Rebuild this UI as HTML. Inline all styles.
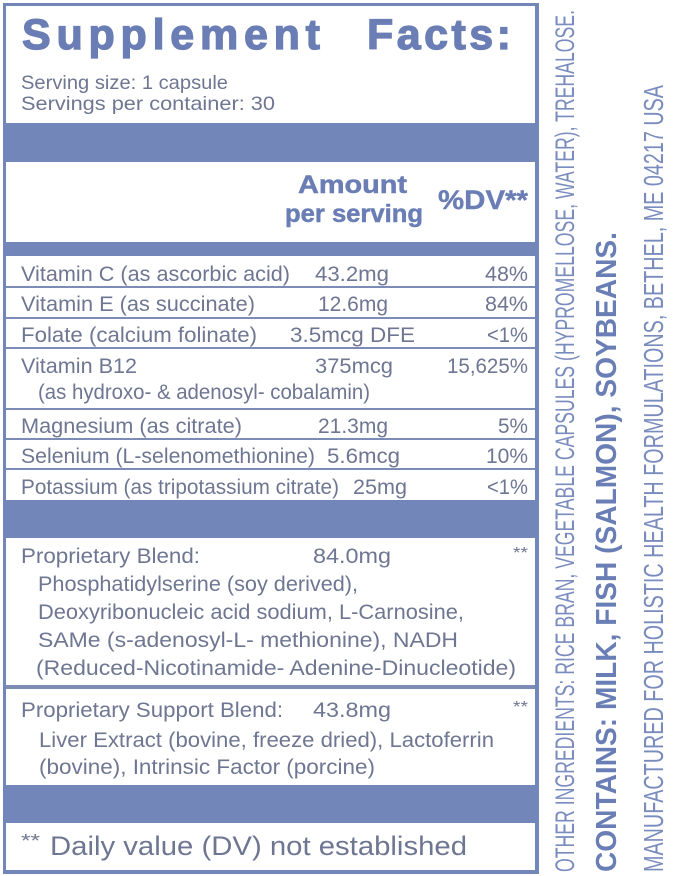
<!DOCTYPE html>
<html><head><meta charset="utf-8"><style>
html,body{margin:0;padding:0;background:#fff;}
svg{display:block}
text{font-family:"Liberation Sans",sans-serif;}
.t{fill:#6e7692;font-size:21px}
.h{fill:#6a7eb5;font-weight:bold}
.v{fill:#7a8bbe}
</style></head><body>
<svg width="676" height="876" viewBox="0 0 676 876" xmlns="http://www.w3.org/2000/svg">
<rect x="0" y="0" width="676" height="876" fill="#fff"/>
<!-- outer box -->
<rect x="3" y="3" width="536" height="871" fill="#7286ba"/>
<rect x="6" y="6" width="529" height="864" fill="#fff"/>
<!-- bars -->
<rect x="3" y="123" width="536" height="39" fill="#7286ba"/>
<rect x="3" y="242" width="536" height="14" fill="#7286ba"/>
<rect x="3" y="500" width="536" height="38" fill="#7286ba"/>
<rect x="3" y="785" width="536" height="38" fill="#7286ba"/>
<!-- row separators -->
<rect x="6" y="286" width="529" height="2" fill="#7d8bb7"/>
<rect x="6" y="317" width="529" height="2" fill="#7d8bb7"/>
<rect x="6" y="347" width="529" height="2" fill="#7d8bb7"/>
<rect x="6" y="408" width="529" height="2" fill="#7d8bb7"/>
<rect x="6" y="438" width="529" height="2" fill="#7d8bb7"/>
<rect x="6" y="468" width="529" height="2" fill="#7d8bb7"/>
<rect x="6" y="685" width="529" height="4" fill="#7d8bb7"/>

<!-- title -->
<text class="h" x="22" y="49" font-size="43" stroke="#6a7eb5" stroke-width="1.3" textLength="298" lengthAdjust="spacing">Supplement</text>
<text class="h" x="367" y="49" font-size="43" stroke="#6a7eb5" stroke-width="1.3" textLength="144" lengthAdjust="spacing">Facts:</text>
<text class="t" x="21" y="89" style="font-size:19.5px" textLength="207" lengthAdjust="spacingAndGlyphs">Serving size: 1 capsule</text>
<text class="t" x="21" y="110" style="font-size:19.5px" textLength="254" lengthAdjust="spacingAndGlyphs">Servings per container: 30</text>

<!-- header -->
<text class="h" x="298" y="193" font-size="25" stroke="#6a7eb5" stroke-width="0.5" textLength="109" lengthAdjust="spacingAndGlyphs">Amount</text>
<text class="h" x="285" y="222" font-size="25" stroke="#6a7eb5" stroke-width="0.5" textLength="138" lengthAdjust="spacingAndGlyphs">per serving</text>
<text class="h" x="438" y="209" font-size="27" stroke="#6a7eb5" stroke-width="0.4" textLength="90" lengthAdjust="spacingAndGlyphs">%DV**</text>

<!-- rows -->
<text class="t" x="21" y="281" textLength="269" lengthAdjust="spacingAndGlyphs">Vitamin C (as ascorbic acid)</text>
<text class="t" x="315" y="281" textLength="74" lengthAdjust="spacingAndGlyphs">43.2mg</text>
<text class="t" x="485" y="281" textLength="43" lengthAdjust="spacingAndGlyphs">48%</text>

<text class="t" x="21" y="311" textLength="234" lengthAdjust="spacingAndGlyphs">Vitamin E (as succinate)</text>
<text class="t" x="318" y="311" textLength="70" lengthAdjust="spacingAndGlyphs">12.6mg</text>
<text class="t" x="485" y="311" textLength="43" lengthAdjust="spacingAndGlyphs">84%</text>

<text class="t" x="21" y="342" textLength="236" lengthAdjust="spacingAndGlyphs">Folate (calcium folinate)</text>
<text class="t" x="290" y="342" textLength="125" lengthAdjust="spacingAndGlyphs">3.5mcg DFE</text>
<text class="t" x="487" y="342" textLength="41" lengthAdjust="spacingAndGlyphs">&lt;1%</text>

<text class="t" x="21" y="373" textLength="116" lengthAdjust="spacingAndGlyphs">Vitamin B12</text>
<text class="t" x="315" y="373" textLength="78" lengthAdjust="spacingAndGlyphs">375mcg</text>
<text class="t" x="447" y="373" textLength="81" lengthAdjust="spacingAndGlyphs">15,625%</text>
<text class="t" x="38" y="399" textLength="332" lengthAdjust="spacingAndGlyphs">(as hydroxo- &amp; adenosyl- cobalamin)</text>

<text class="t" x="21" y="433" textLength="221" lengthAdjust="spacingAndGlyphs">Magnesium (as citrate)</text>
<text class="t" x="318" y="433" textLength="70" lengthAdjust="spacingAndGlyphs">21.3mg</text>
<text class="t" x="498" y="433" textLength="30" lengthAdjust="spacingAndGlyphs">5%</text>

<text class="t" x="21" y="463" textLength="294" lengthAdjust="spacingAndGlyphs">Selenium (L-selenomethionine)</text>
<text class="t" x="327" y="463" textLength="73" lengthAdjust="spacingAndGlyphs">5.6mcg</text>
<text class="t" x="486" y="463" textLength="42" lengthAdjust="spacingAndGlyphs">10%</text>

<text class="t" x="21" y="494" textLength="318" lengthAdjust="spacingAndGlyphs">Potassium (as tripotassium citrate)</text>
<text class="t" x="353" y="494" textLength="54" lengthAdjust="spacingAndGlyphs">25mg</text>
<text class="t" x="487" y="494" textLength="41" lengthAdjust="spacingAndGlyphs">&lt;1%</text>

<!-- blend 1 -->
<text class="t" x="21" y="563" textLength="179" lengthAdjust="spacingAndGlyphs">Proprietary Blend:</text>
<text class="t" x="313" y="563" textLength="78" lengthAdjust="spacingAndGlyphs">84.0mg</text>
<text class="t" x="513" y="558" style="font-size:16px" textLength="15" lengthAdjust="spacingAndGlyphs">**</text>
<text class="t" x="38" y="591" textLength="320" lengthAdjust="spacingAndGlyphs">Phosphatidylserine (soy derived),</text>
<text class="t" x="38" y="619" textLength="426" lengthAdjust="spacingAndGlyphs">Deoxyribonucleic acid sodium, L-Carnosine,</text>
<text class="t" x="38" y="647" textLength="420" lengthAdjust="spacingAndGlyphs">SAMe (s-adenosyl-L- methionine), NADH</text>
<text class="t" x="36" y="675" textLength="480" lengthAdjust="spacingAndGlyphs">(Reduced-Nicotinamide- Adenine-Dinucleotide)</text>

<!-- blend 2 -->
<text class="t" x="21" y="717" textLength="262" lengthAdjust="spacingAndGlyphs">Proprietary Support Blend:</text>
<text class="t" x="313" y="717" textLength="78" lengthAdjust="spacingAndGlyphs">43.8mg</text>
<text class="t" x="513" y="712" style="font-size:16px" textLength="15" lengthAdjust="spacingAndGlyphs">**</text>
<text class="t" x="39" y="747" textLength="455" lengthAdjust="spacingAndGlyphs">Liver Extract (bovine, freeze dried), Lactoferrin</text>
<text class="t" x="39" y="774" textLength="336" lengthAdjust="spacingAndGlyphs">(bovine), Intrinsic Factor (porcine)</text>

<!-- footer -->
<text class="t" x="21" y="847" style="font-size:18px" textLength="19" lengthAdjust="spacingAndGlyphs">**</text>
<text class="t" x="50" y="855" style="font-size:27px" textLength="417" lengthAdjust="spacingAndGlyphs">Daily value (DV) not established</text>

<!-- vertical side text -->
<text class="v" transform="translate(574,872) rotate(-90)" font-size="27" textLength="862" lengthAdjust="spacingAndGlyphs">OTHER INGREDIENTS: RICE BRAN, VEGETABLE CAPSULES (HYPROMELLOSE, WATER), TREHALOSE.</text>
<text transform="translate(616,872) rotate(-90)" font-size="29" font-weight="bold" fill="#6a7eb6" textLength="640" lengthAdjust="spacingAndGlyphs">CONTAINS: MILK, FISH (SALMON), SOYBEANS.</text>
<text class="v" transform="translate(663,872) rotate(-90)" font-size="28" textLength="787" lengthAdjust="spacingAndGlyphs">MANUFACTURED FOR HOLISTIC HEALTH FORMULATIONS, BETHEL, ME 04217 USA</text>
</svg>
</body></html>
